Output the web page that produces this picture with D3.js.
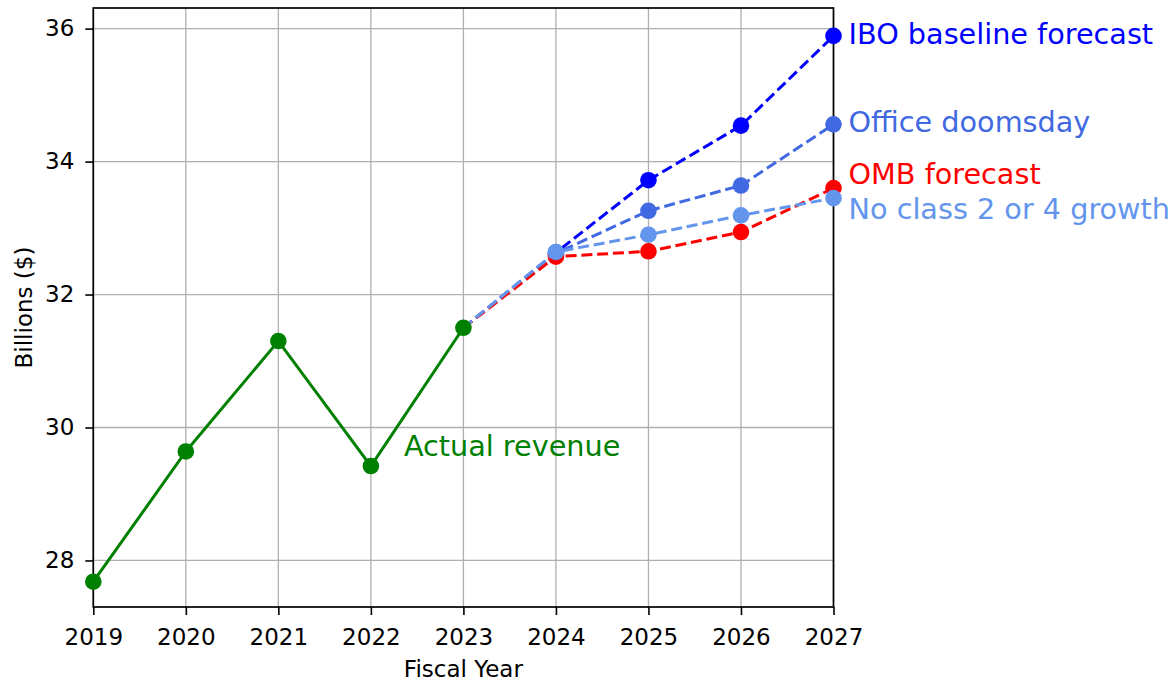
<!DOCTYPE html>
<html>
<head>
<meta charset="utf-8">
<script src="https://cdn.jsdelivr.net/npm/d3@7"></script>
<style>
  html, body { margin: 0; padding: 0; background: #fff; }
  svg { display: block; font-family: "DejaVu Sans", sans-serif; }
</style>
</head>
<body>
<svg id="chart" width="1173" height="683"></svg>
<script>
// ---- data ----
const actualYears = [2019, 2020, 2021, 2022, 2023];
const actualValues = [27.68, 29.64, 31.30, 29.42, 31.50];
const forecastYears = [2023, 2024, 2025, 2026, 2027];
const iboBaseline = [31.50, 32.63, 33.72, 34.54, 35.89];
const officeDoomsday = [31.50, 32.62, 33.26, 33.64, 34.56];
const ombForecast = [31.50, 32.57, 32.65, 32.94, 33.60];
const noClassGrowth = [31.50, 32.64, 32.90, 33.19, 33.45];
const seriesNames = ["IBO baseline forecast", "Office doomsday", "OMB forecast", "No class 2 or 4 growth"];
const actualName = "Actual revenue";
const xTicks = [2019, 2020, 2021, 2022, 2023, 2024, 2025, 2026, 2027];
const yTicks = [28, 30, 32, 34, 36];
const yDomain = [27.30, 36.31];
const xTitle = "Fiscal Year";
const yTitle = "Billions ($)";

// ---- layout / style ----
const svg = d3.select("#chart");
const L = 93.3, R = 833.5, T = 8, B = 607;
const forecastColors = ["#0000ff", "#4169e1", "#ff0000", "#6495ed"];
const labelNudge = [8, 7.5, -4, 21];   // pixel offsets for right-hand labels

const x = d3.scaleLinear().domain([2019, 2027]).range([L, R]);
const y = d3.scaleLinear().domain(yDomain).range([B, T]);

// grid
const grid = svg.append("g");
grid.selectAll("line.v").data(xTicks).join("line")
  .attr("x1", d => x(d)).attr("x2", d => x(d)).attr("y1", T).attr("y2", B)
  .attr("stroke", "#b0b0b0").attr("stroke-width", 1.3);
grid.selectAll("line.h").data(yTicks).join("line")
  .attr("y1", d => y(d)).attr("y2", d => y(d)).attr("x1", L).attr("x2", R)
  .attr("stroke", "#b0b0b0").attr("stroke-width", 1.3);

// axes
const xAxis = svg.append("g").attr("transform", `translate(0,${B})`)
  .call(d3.axisBottom(x).tickValues(xTicks).tickFormat(d3.format("d")).tickSize(8).tickPadding(14));
const yAxis = svg.append("g").attr("transform", `translate(${L},0)`)
  .call(d3.axisLeft(y).tickValues(yTicks).tickFormat(d3.format("d")).tickSize(8).tickPadding(11));
[xAxis, yAxis].forEach(a => {
  a.select(".domain").remove();
  a.selectAll(".tick line").attr("stroke", "#000").attr("stroke-width", 1.6);
  a.selectAll(".tick text").attr("fill", "#000").style("font-size", "23px")
    .style("font-family", "DejaVu Sans, sans-serif");
});

// spines
svg.append("rect").attr("x", L).attr("y", T).attr("width", R - L).attr("height", B - T)
  .attr("fill", "none").attr("stroke", "#000").attr("stroke-width", 1.7);

// titles
svg.append("text").attr("x", (L + R) / 2).attr("y", 677).attr("text-anchor", "middle")
  .style("font-size", "23px").text(xTitle);
svg.append("text").attr("transform", `translate(32,${(T + B) / 2}) rotate(-90)`)
  .attr("text-anchor", "middle").style("font-size", "23px").text(yTitle);

const line = d3.line().x(d => x(d[0])).y(d => y(d[1]));

// forecasts
const forecasts = [iboBaseline, officeDoomsday, ombForecast, noClassGrowth];
forecasts.forEach((vals, i) => {
  const pts = forecastYears.map((yr, j) => [yr, vals[j]]);
  svg.append("path").datum(pts).attr("d", line).attr("fill", "none")
    .attr("stroke", forecastColors[i]).attr("stroke-width", 3)
    .attr("stroke-dasharray", "11,4.8");
  svg.append("g").selectAll("circle").data(pts.slice(1)).join("circle")
    .attr("cx", d => x(d[0])).attr("cy", d => y(d[1])).attr("r", 8.3)
    .attr("fill", forecastColors[i]);
});

// actual
const actualPts = actualYears.map((yr, j) => [yr, actualValues[j]]);
svg.append("path").datum(actualPts).attr("d", line).attr("fill", "none")
  .attr("stroke", "#008000").attr("stroke-width", 3);
svg.append("g").selectAll("circle").data(actualPts).join("circle")
  .attr("cx", d => x(d[0])).attr("cy", d => y(d[1])).attr("r", 8.3).attr("fill", "#008000");

// labels
const last = forecastYears.length - 1;
forecasts.forEach((vals, i) => {
  svg.append("text").attr("x", x(forecastYears[last]) + 15)
    .attr("y", y(vals[last]) + labelNudge[i])
    .attr("fill", forecastColors[i]).style("font-size", "28.7px").text(seriesNames[i]);
});
svg.append("text").attr("x", x(2022) + 33).attr("y", y(actualValues[3]) - 10)
  .attr("fill", "#008000").style("font-size", "28.7px").text(actualName);
</script>
</body>
</html>
